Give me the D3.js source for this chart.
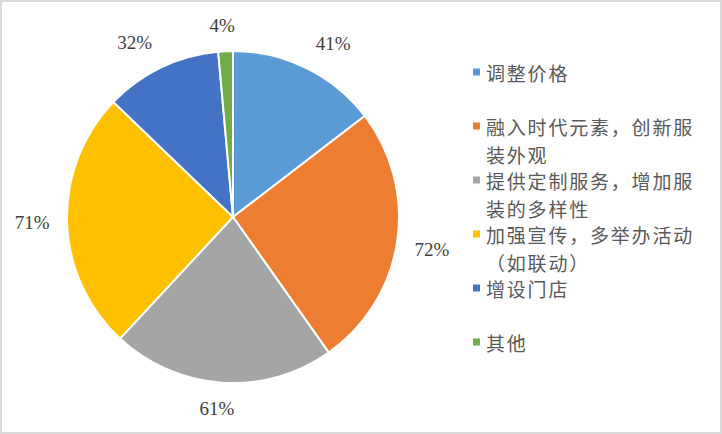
<!DOCTYPE html>
<html lang="zh">
<head>
    <meta charset="UTF-8">
    <title>服装改进建议</title>
    <script src="https://d3js.org/d3.v7.min.js"></script>
    <style>
        body { margin: 0; background: #fff; }
        .legend text { font-family: "Noto Sans CJK SC", sans-serif; font-size: 19px; fill: #595959; letter-spacing: 1.8px; }
    </style>
</head>
<body>
<div id="chart"></div>
<script>
    // Data
    const categories = ["调整价格", "融入时代元素，创新服装外观", "提供定制服务，增加服装的多样性",
                        "加强宣传，多举办活动（如联动）", "增设门店", "其他"];
    const legendLines = [["调整价格"], ["融入时代元素，创新服", "装外观"], ["提供定制服务，增加服", "装的多样性"],
                         ["加强宣传，多举办活动", "（如联动）"], ["增设门店"], ["其他"]];
    const values = [41, 72, 61, 71, 32, 4];
    const colors = ["#5B9BD5", "#ED7D31", "#A5A5A5", "#FFC000", "#4472C4", "#70AD47"];

    const width = 722, height = 434;
    const cx = 233, cy = 217, radius = 166;

    const svg = d3.select("#chart").append("svg")
        .attr("width", width)
        .attr("height", height);

    // outer frame
    svg.append("rect")
        .attr("x", 1).attr("y", 1)
        .attr("width", width - 2).attr("height", height - 2)
        .attr("fill", "#fff")
        .attr("stroke", "#d9d9d9")
        .attr("stroke-width", 2);

    const pie = d3.pie().sort(null).value(d => d);
    const arcs = pie(values);
    const arc = d3.arc().innerRadius(0).outerRadius(radius);

    const g = svg.append("g").attr("transform", `translate(${cx},${cy})`);

    g.selectAll("path")
        .data(arcs)
        .enter()
        .append("path")
        .attr("d", arc)
        .attr("fill", (d, i) => colors[i])
        .attr("stroke", "#fff")
        .attr("stroke-width", 2);

    // outside-end labels: box corner sits just outside the arc
    const clamp = v => Math.max(-1, Math.min(1, v));
    const labelW = 40, labelH = 22, gap = 15;
    g.selectAll("text.label")
        .data(arcs)
        .enter()
        .append("text")
        .attr("class", "label")
        .attr("font-family", "'Liberation Serif', 'Times New Roman', 'DejaVu Serif', serif")
        .attr("font-size", 19)
        .attr("fill", "#404040")
        .attr("text-anchor", "middle")
        .attr("dominant-baseline", "central")
        .attr("x", d => {
            const a = (d.startAngle + d.endAngle) / 2;
            return Math.sin(a) * (radius + gap) + labelW / 2 * clamp(Math.sin(a) * 3);
        })
        .attr("y", d => {
            const a = (d.startAngle + d.endAngle) / 2;
            return -Math.cos(a) * (radius + gap) - labelH / 2 * clamp(Math.cos(a) * 3);
        })
        .text(d => d.value + "%");

    // legend
    const legendY = d3.scaleLinear().domain([0, 1]).range([72, 126]);
    const legend = svg.append("g").attr("class", "legend");
    const item = legend.selectAll("g")
        .data(categories)
        .enter()
        .append("g")
        .attr("transform", (d, i) => `translate(473,${legendY(i)})`);

    item.append("rect")
        .attr("x", 0).attr("y", -3.5)
        .attr("width", 7).attr("height", 7)
        .attr("fill", (d, i) => colors[i]);

    item.each(function(d, i) {
        d3.select(this).selectAll("text")
            .data(legendLines[i])
            .enter()
            .append("text")
            .attr("x", 13)
            .attr("y", (t, j) => j * 28)
            .attr("dominant-baseline", "central")
            .text(t => t);
    });
</script>
</body>
</html>
